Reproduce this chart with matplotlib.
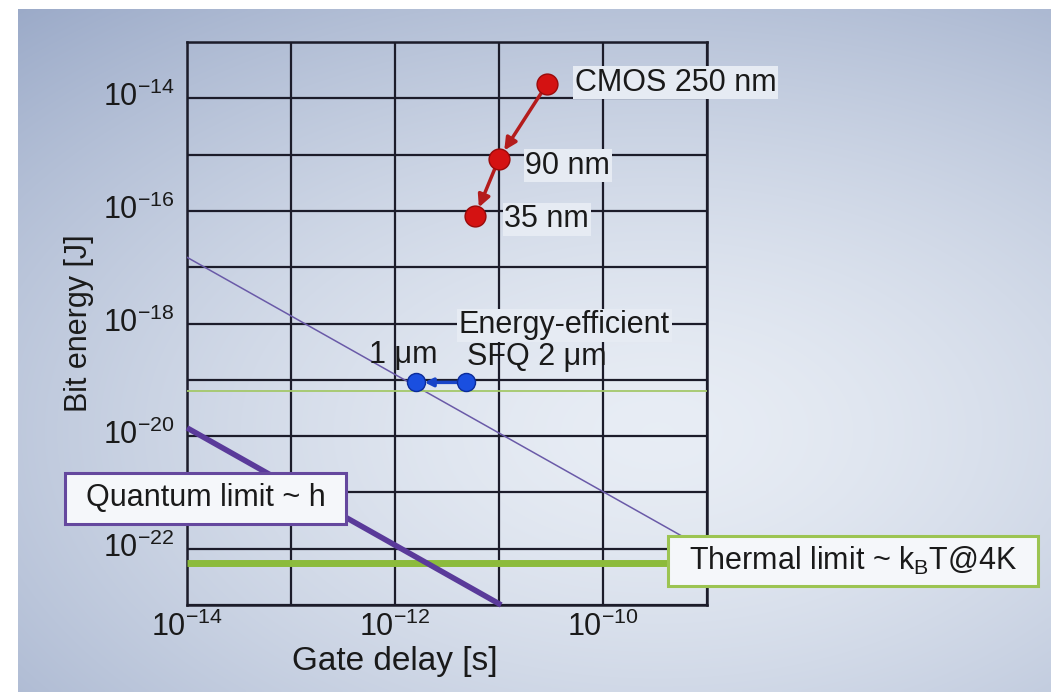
import numpy as np
import matplotlib
matplotlib.use("Agg")
import matplotlib.pyplot as plt
from matplotlib.ticker import FixedLocator, FuncFormatter, NullLocator
from matplotlib.patches import Rectangle
from matplotlib.transforms import ScaledTranslation

plt.rcParams['font.family'] = ['Liberation Sans', 'DejaVu Sans']
plt.rcParams['mathtext.fontset'] = 'custom'
plt.rcParams['mathtext.rm'] = 'Liberation Sans'
plt.rcParams['mathtext.it'] = 'Liberation Sans:italic'
plt.rcParams['mathtext.bf'] = 'Liberation Sans:bold'

# ---------------- data ----------------
cmos_labels = ["CMOS 250 nm", "90 nm", "35 nm"]
cmos_delay = [2.9e-11, 1.0e-11, 5.9e-12]
cmos_energy = [1.8e-14, 8.5e-16, 8.0e-17]

sfq_labels = ["1 \u03bcm", "SFQ 2 \u03bcm"]
sfq_delay = [1.6e-12, 4.8e-12]
sfq_energy = [9.0e-20, 9.0e-20]

quantum_delay = [1e-14, 1.05e-11]
quantum_energy = [1.4e-20, 1.0e-23]

scaling_delay = [1e-14, 6e-10]
scaling_energy = [1.5e-17, 1.6e-22]

thermal_room_delay = [1e-14, 1e-9]
thermal_room_energy = [6.3e-20, 6.3e-20]

thermal_4k_delay = [1e-14, 6e-10]
thermal_4k_energy = [5.6e-23, 5.6e-23]

x_label_exps = [-14, -12, -10]
y_label_exps = [-14, -16, -18, -20, -22]

# ---------------- figure ----------------
W, H = 1051, 692
fig = plt.figure(figsize=(W / 100, H / 100), dpi=100)
fig.patch.set_facecolor('white')

# photo-like background
bg = fig.add_axes([18 / W, 0, 1 - 18 / W, 1 - 9 / H], zorder=-10)
ny, nx = 200, 300
yy, xx = np.mgrid[0:1:ny * 1j, 0:1:nx * 1j]
t = np.sqrt(((xx - 0.62) / 0.95) ** 2 + ((yy - 0.62) / 0.85) ** 2)
t = np.clip(t, 0, 1) ** 1.5
light = np.array([0.91, 0.93, 0.96])
dark = np.array([0.60, 0.66, 0.78])
img = light[None, None, :] * (1 - t[..., None]) + dark[None, None, :] * t[..., None]
bg.imshow(img, aspect='auto', extent=[0, 1, 1, 0], interpolation='bilinear')
bg.set_axis_off()

ax = fig.add_axes([187 / W, 1 - 605 / H, (707 - 187) / W, (605 - 42) / H])
ax.set_facecolor('none')
ax.set_xscale('log')
ax.set_yscale('log')
ax.set_xlim(1e-14, 1e-9)
ax.set_ylim(1e-23, 1e-13)

grid_col = '#1c1c2a'
ax.xaxis.set_major_locator(FixedLocator([10.0 ** e for e in range(-14, -8)]))
ax.yaxis.set_major_locator(FixedLocator([10.0 ** e for e in range(-23, -12)]))
ax.xaxis.set_minor_locator(NullLocator())
ax.yaxis.set_minor_locator(NullLocator())


def fmt_x(v, pos):
    e = int(round(np.log10(v)))
    return r'$\mathregular{10^{-%d}}$' % (-e) if e in x_label_exps else ''


def fmt_y(v, pos):
    e = int(round(np.log10(v)))
    return r'$\mathregular{10^{-%d}}$' % (-e) if e in y_label_exps else ''


ax.xaxis.set_major_formatter(FuncFormatter(fmt_x))
ax.yaxis.set_major_formatter(FuncFormatter(fmt_y))
ax.tick_params(axis='both', length=0, labelsize=22, colors='#1a1a1a')
ax.tick_params(axis='x', pad=5)
ax.tick_params(axis='y', pad=9)
ax.grid(True, which='major', color=grid_col, linewidth=1.6)
ax.set_axisbelow(True)
for s in ax.spines.values():
    s.set_color(grid_col)
    s.set_linewidth(1.8)

# y tick labels sit slightly above their grid lines on the slide
for lab in ax.get_yticklabels():
    lab.set_transform(lab.get_transform() + ScaledTranslation(0, 4 / 100, fig.dpi_scale_trans))

ax.set_xlabel('Gate delay [s]', fontsize=24, color='#1a1a1a')
ax.xaxis.set_label_coords(0.40, -0.072)
ax.set_ylabel('Bit energy [J]', fontsize=22, color='#1a1a1a', labelpad=6)

# limit lines
ax.plot(scaling_delay, scaling_energy, color='#6a5aa8', lw=1.1, zorder=3)
ax.plot(thermal_room_delay, thermal_room_energy, color='#a4c86a', lw=1.3, zorder=3)
ax.plot(thermal_4k_delay, thermal_4k_energy, color='#8cbb3c', lw=5, zorder=3,
        solid_capstyle='butt')
ax.plot(quantum_delay, quantum_energy, color='#5a3a9a', lw=4, zorder=4,
        solid_capstyle='butt', clip_on=False)

# CMOS points with arrows
label_bg = dict(facecolor='#e6ebf3', edgecolor='none', pad=1.0)
for i in range(len(cmos_delay) - 1):
    ax.annotate('', xy=(cmos_delay[i + 1], cmos_energy[i + 1]),
                xytext=(cmos_delay[i], cmos_energy[i]),
                arrowprops=dict(arrowstyle='-|>', color='#b41c1c', lw=2.5,
                                mutation_scale=18, shrinkA=6, shrinkB=7),
                zorder=5)
ax.plot(cmos_delay, cmos_energy, 'o', ms=15, color='#d41212',
        mec='#9a0a0a', mew=1, zorder=6, ls='none')
cmos_offsets = [(20, 1), (19, -5), (21, -2)]
for lab, x, y, off in zip(cmos_labels, cmos_delay, cmos_energy, cmos_offsets):
    ax.annotate(lab, (x, y), xytext=off, textcoords='offset points',
                ha='left', va='center', fontsize=22, color='#1a1a1a',
                bbox=label_bg, zorder=7)

# SFQ points
ax.annotate('', xy=(sfq_delay[0], sfq_energy[0]), xytext=(sfq_delay[1], sfq_energy[1]),
            arrowprops=dict(arrowstyle='-|>', color='#1844c8', lw=2.5,
                            mutation_scale=12, shrinkA=6, shrinkB=6),
            zorder=5)
ax.plot(sfq_delay, sfq_energy, 'o', ms=13, color='#1a4fe0',
        mec='#0c2c9a', mew=1, zorder=6, ls='none')
ax.annotate(sfq_labels[0], (sfq_delay[0], sfq_energy[0]), xytext=(-9, 20),
            textcoords='offset points', ha='center', va='center',
            fontsize=22, color='#1a1a1a', zorder=7)
ax.annotate(sfq_labels[1], (sfq_delay[1], sfq_energy[1]), xytext=(1, 18),
            textcoords='offset points', ha='left', va='center',
            fontsize=22, color='#1a1a1a', zorder=7)
ax.annotate('Energy-efficient', (sfq_delay[1], sfq_energy[1]), xytext=(-5, 41),
            textcoords='offset points', ha='left', va='center',
            fontsize=22, color='#1a1a1a', bbox=label_bg, zorder=7)

# boxes (figure pixel positions)
def fig_box(x0, y0, x1, y1, edge, text):
    r = Rectangle((x0 / W, 1 - y1 / H), (x1 - x0) / W, (y1 - y0) / H,
                  transform=fig.transFigure, facecolor='#f5f7fa',
                  edgecolor=edge, linewidth=2.2, zorder=20)
    fig.add_artist(r)
    fig.text((x0 + x1) / 2 / W, 1 - (y0 + y1) / 2 / H, text, ha='center',
             va='center', fontsize=22, color='#1a1a1a', zorder=21)


fig_box(65, 473, 346, 524, '#65489e', 'Quantum limit ~ h')
fig_box(668, 536, 1038, 586, '#9cc452', r'Thermal limit ~ k$_\mathregular{B}$T@4K')

fig.savefig('out.png', dpi=100, facecolor=fig.get_facecolor())
